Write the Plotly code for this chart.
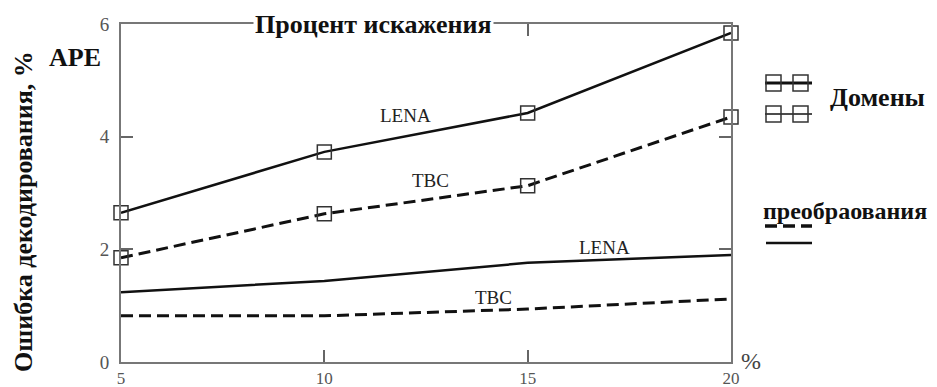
import plotly.graph_objects as go

# Data
x_vals = [5, 10, 15, 20]
lena_domains = [2.65, 3.73, 4.42, 5.84]
tbc_domains = [1.85, 2.63, 3.13, 4.35]
lena_transform = [1.24, 1.44, 1.76, 1.90]
tbc_transform = [0.82, 0.82, 0.94, 1.12]
x_ticks = [5, 10, 15, 20]
y_ticks = [0, 2, 4, 6]

OFF = 8  # page body margin
W, H = 937 - 2 * OFF, 387 - OFF
L, T, B = 121 - OFF, 24 - OFF, 25
R = W + OFF - 731
PW, PH = W - L - R, H - T - B

def px(x):
    return (x - OFF - L) / PW

def py(y):
    return (H - B - (y - OFF)) / PH

SERIF = "Liberation Serif, Times New Roman, serif"

fig = go.Figure()

fig.add_trace(go.Scatter(x=x_vals, y=lena_domains, mode="lines+markers",
                         line=dict(color="#111", width=2.5),
                         marker=dict(symbol="square-open", size=14, color="#333", line=dict(width=1.5)),
                         cliponaxis=False, showlegend=False))
fig.add_trace(go.Scatter(x=x_vals, y=tbc_domains, mode="lines+markers",
                         line=dict(color="#111", width=3, dash="12px,6px"),
                         marker=dict(symbol="square-open", size=14, color="#333", line=dict(width=1.5)),
                         cliponaxis=False, showlegend=False))
fig.add_trace(go.Scatter(x=x_vals, y=lena_transform, mode="lines",
                         line=dict(color="#111", width=2.5), showlegend=False))
fig.add_trace(go.Scatter(x=x_vals, y=tbc_transform, mode="lines",
                         line=dict(color="#111", width=3, dash="12px,6px"), showlegend=False))

axis_common = dict(showline=True, linecolor="#777", linewidth=2, mirror="ticks",
                   ticks="inside", ticklen=12, tickwidth=1.5, tickcolor="#666",
                   showgrid=False, zeroline=False, automargin=False)

fig.update_xaxes(range=[5, 20], tickvals=x_ticks, ticktext=[str(v) for v in x_ticks],
                 ticklabelstandoff=0, tickfont=dict(family=SERIF, size=17, color="#555"),
                 **axis_common)
fig.update_yaxes(range=[0, 6], tickvals=y_ticks, ticktext=[str(v) for v in y_ticks],
                 ticklabelstandoff=6, tickfont=dict(family=SERIF, size=19, color="#555"),
                 **axis_common)

def A(x, y, text, size, color="#111", **kw):
    d = dict(x=px(x), y=py(y), xref="paper", yref="paper", text=text, showarrow=False,
             xanchor="center", yanchor="middle", font=dict(family=SERIF, size=size, color=color))
    d.update(kw)
    return d

ann = []
ann.append(A(373, 24, "<b>Процент искажения</b>", 26, bgcolor="white", borderpad=1))
# series labels
for txt, xv, yv in [("LENA", 12.0, 4.38), ("TBC", 12.6, 3.23), ("LENA", 16.9, 2.04), ("TBC", 14.15, 1.15)]:
    ann.append(dict(x=xv, y=yv, xref="x", yref="y", text=txt, showarrow=False,
                    xanchor="center", yanchor="middle",
                    font=dict(family=SERIF, size=19, color="#222")))
ann.append(A(24, 212, "<b>Ошибка декодирования, %</b>", 26, textangle=-90))
ann.append(A(75, 57, "<b>APE</b>", 26))
ann.append(A(751, 361, "%", 24, color="#444"))
ann.append(A(877, 97, "<b>Домены</b>", 26))
ann.append(A(845, 211, "<b>преобраования</b>", 24))

shapes = []
# legend symbols: squares with lines
for yc, lw in [(83, 3), (114, 1.5)]:
    shapes.append(dict(type="line", xref="paper", yref="paper", x0=px(765), x1=px(812),
                       y0=py(yc), y1=py(yc), line=dict(color="#111", width=lw)))
    for xc in [773, 800]:
        shapes.append(dict(type="rect", xref="paper", yref="paper", x0=px(xc - 7), x1=px(xc + 8),
                           y0=py(yc - 8), y1=py(yc + 8), line=dict(color="#333", width=1.5)))
shapes.append(dict(type="line", xref="paper", yref="paper", x0=px(765), x1=px(812),
                   y0=py(226), y1=py(226), line=dict(color="#111", width=3.5, dash="12px,6px")))
shapes.append(dict(type="line", xref="paper", yref="paper", x0=px(766), x1=px(812),
                   y0=py(243), y1=py(243), line=dict(color="#111", width=2.5)))

fig.update_layout(width=W, height=H, margin=dict(l=L, r=R, t=T, b=B, pad=0, autoexpand=False),
                  paper_bgcolor="white", plot_bgcolor="white",
                  annotations=ann, shapes=shapes, showlegend=False)

fig.write_html("out.html")
